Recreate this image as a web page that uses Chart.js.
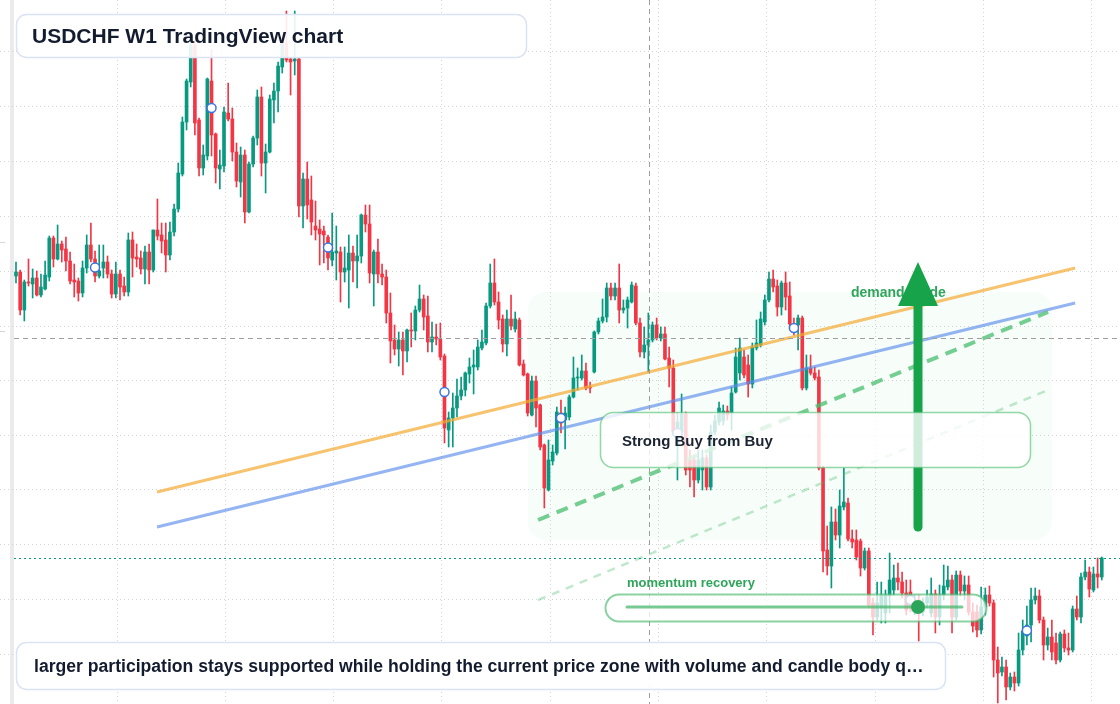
<!DOCTYPE html>
<html>
<head>
<meta charset="utf-8">
<title>USDCHF W1 TradingView chart</title>
<script src="https://cdn.jsdelivr.net/npm/chart.js@4.4.1/dist/chart.umd.min.js"></script>
<style>
  html, body { margin: 0; padding: 0; background: #ffffff; }
  #wrap { position: relative; width: 1120px; height: 704px; overflow: hidden; }
</style>
</head>
<body>
<div id="wrap"><canvas id="chart"></canvas></div>
<script>
// USDCHF weekly candles, oldest first
const open = [
  0.9448,0.9456,0.9380,0.9436,0.9432,0.9444,0.9410,0.9422,0.9446,0.9524,
  0.9482,0.9512,0.9502,0.9478,0.9440,0.9438,0.9414,0.9464,0.9510,0.9482,
  0.9448,0.9464,0.9476,0.9452,0.9412,0.9452,0.9428,0.9416,0.9520,0.9486,
  0.9484,0.9462,0.9496,0.9460,0.9540,0.9530,0.9520,0.9490,0.9536,0.9582,
  0.9652,0.9756,0.9836,0.9910,0.9760,0.9664,0.9688,0.9838,0.9732,0.9662,
  0.9668,0.9774,0.9762,0.9696,0.9636,0.9690,0.9576,0.9672,0.9724,0.9806,
  0.9674,0.9696,0.9800,0.9818,0.9866,0.9914,0.9882,0.9878,0.9882,0.9588,
  0.9642,0.9600,0.9548,0.9542,0.9538,0.9526,0.9480,0.9494,0.9496,0.9456,
  0.9460,0.9494,0.9478,0.9488,0.9570,0.9552,0.9452,0.9496,0.9452,0.9446,
  0.9374,0.9320,0.9302,0.9320,0.9298,0.9340,0.9338,0.9380,0.9402,0.9368,
  0.9316,0.9326,0.9322,0.9288,0.9140,0.9164,0.9184,0.9208,0.9220,0.9252,
  0.9266,0.9266,0.9304,0.9314,0.9388,0.9434,0.9396,0.9362,0.9312,0.9362,
  0.9342,0.9360,0.9272,0.9252,0.9170,0.9238,0.9190,0.9110,0.9020,0.9078,
  0.9094,0.9174,0.9160,0.9166,0.9206,0.9244,0.9244,0.9258,0.9226,0.9256,
  0.9336,0.9358,0.9366,0.9424,0.9408,0.9424,0.9380,0.9384,0.9396,0.9428,
  0.9354,0.9296,0.9310,0.9320,0.9350,0.9324,0.9332,0.9284,0.9264,0.9112,
  0.9136,0.9172,0.9080,0.9080,0.9040,0.9060,0.9084,0.9026,0.9136,0.9156,
  0.9158,0.9178,0.9174,0.9216,0.9254,0.9286,0.9270,0.9232,0.9304,0.9310,
  0.9356,0.9400,0.9442,0.9428,0.9386,0.9434,0.9408,0.9352,0.9350,0.9364,
  0.9224,0.9264,0.9254,0.9246,0.9064,0.8900,0.8868,0.8956,0.8930,0.8986,
  0.8994,0.8922,0.8920,0.8918,0.8864,0.8898,0.8794,0.8766,0.8784,0.8774,
  0.8808,0.8820,0.8844,0.8836,0.8814,0.8816,0.8784,0.8800,0.8776,0.8794,
  0.8774,0.8812,0.8766,0.8810,0.8826,0.8840,0.8766,0.8850,0.8818,0.8830,
  0.8776,0.8776,0.8740,0.8786,0.8810,0.8794,0.8680,0.8656,0.8666,0.8626,
  0.8646,0.8634,0.8700,0.8728,0.8750,0.8800,0.8808,0.8760,0.8710,0.8726,
  0.8714,0.8680,0.8732,0.8704,0.8700,0.8782,0.8766,0.8846,0.8856,0.8820,
  0.8852,0.8846
];
const high = [
  0.9476,0.9460,0.9440,0.9482,0.9462,0.9458,0.9452,0.9478,0.9528,0.9528,
  0.9550,0.9518,0.9526,0.9496,0.9472,0.9444,0.9478,0.9530,0.9554,0.9498,
  0.9510,0.9510,0.9488,0.9460,0.9476,0.9460,0.9446,0.9534,0.9536,0.9512,
  0.9498,0.9508,0.9512,0.9540,0.9602,0.9554,0.9554,0.9556,0.9592,0.9674,
  0.9766,0.9842,0.9920,0.9920,0.9764,0.9710,0.9844,0.9900,0.9734,0.9700,
  0.9786,0.9834,0.9784,0.9714,0.9706,0.9700,0.9676,0.9728,0.9820,0.9826,
  0.9712,0.9810,0.9834,0.9876,0.9916,0.9978,0.9884,0.9978,0.9884,0.9654,
  0.9676,0.9648,0.9598,0.9560,0.9548,0.9530,0.9574,0.9548,0.9506,0.9506,
  0.9530,0.9508,0.9530,0.9572,0.9590,0.9590,0.9500,0.9522,0.9472,0.9460,
  0.9414,0.9350,0.9336,0.9336,0.9342,0.9374,0.9388,0.9430,0.9410,0.9408,
  0.9356,0.9352,0.9354,0.9292,0.9176,0.9214,0.9242,0.9246,0.9256,0.9284,
  0.9300,0.9320,0.9340,0.9394,0.9472,0.9482,0.9416,0.9370,0.9380,0.9410,
  0.9376,0.9364,0.9280,0.9254,0.9248,0.9248,0.9192,0.9112,0.9120,0.9110,
  0.9186,0.9200,0.9186,0.9210,0.9286,0.9264,0.9290,0.9274,0.9236,0.9338,
  0.9364,0.9402,0.9434,0.9434,0.9434,0.9472,0.9400,0.9406,0.9436,0.9434,
  0.9364,0.9346,0.9374,0.9356,0.9364,0.9346,0.9346,0.9306,0.9280,0.9174,
  0.9212,0.9176,0.9100,0.9086,0.9100,0.9100,0.9090,0.9150,0.9170,0.9196,
  0.9190,0.9188,0.9226,0.9304,0.9324,0.9300,0.9290,0.9314,0.9360,0.9376,
  0.9410,0.9456,0.9460,0.9440,0.9438,0.9456,0.9436,0.9364,0.9370,0.9368,
  0.9290,0.9290,0.9266,0.9260,0.9068,0.8948,0.8986,0.8982,0.9020,0.9064,
  0.9004,0.8940,0.8940,0.8922,0.8904,0.8904,0.8804,0.8836,0.8836,0.8820,
  0.8894,0.8870,0.8874,0.8856,0.8840,0.8840,0.8810,0.8810,0.8804,0.8820,
  0.8844,0.8820,0.8830,0.8870,0.8868,0.8850,0.8858,0.8858,0.8848,0.8848,
  0.8794,0.8790,0.8826,0.8824,0.8828,0.8800,0.8706,0.8686,0.8680,0.8654,
  0.8656,0.8734,0.8760,0.8788,0.8824,0.8824,0.8820,0.8766,0.8744,0.8760,
  0.8734,0.8736,0.8740,0.8734,0.8788,0.8808,0.8854,0.8880,0.8866,0.8866,
  0.8884,0.8886
];
const low = [
  0.9434,0.9370,0.9358,0.9428,0.9404,0.9408,0.9406,0.9420,0.9438,0.9466,
  0.9480,0.9476,0.9458,0.9432,0.9406,0.9398,0.9406,0.9454,0.9476,0.9436,
  0.9444,0.9444,0.9444,0.9404,0.9404,0.9400,0.9408,0.9408,0.9446,0.9466,
  0.9452,0.9432,0.9432,0.9456,0.9520,0.9494,0.9456,0.9480,0.9528,0.9576,
  0.9648,0.9740,0.9826,0.9730,0.9648,0.9650,0.9680,0.9688,0.9634,0.9622,
  0.9656,0.9758,0.9678,0.9626,0.9606,0.9554,0.9574,0.9666,0.9710,0.9648,
  0.9614,0.9694,0.9754,0.9776,0.9854,0.9876,0.9810,0.9850,0.9566,0.9544,
  0.9562,0.9530,0.9520,0.9470,0.9474,0.9460,0.9468,0.9440,0.9396,0.9436,
  0.9384,0.9436,0.9424,0.9474,0.9536,0.9434,0.9388,0.9434,0.9430,0.9354,
  0.9274,0.9290,0.9268,0.9250,0.9276,0.9306,0.9320,0.9376,0.9340,0.9296,
  0.9296,0.9310,0.9280,0.9114,0.9106,0.9106,0.9166,0.9200,0.9208,0.9234,
  0.9212,0.9260,0.9300,0.9310,0.9384,0.9390,0.9342,0.9296,0.9288,0.9340,
  0.9336,0.9268,0.9248,0.9168,0.9168,0.9146,0.9100,0.8984,0.9018,0.9070,
  0.9090,0.9134,0.9102,0.9160,0.9204,0.9220,0.9240,0.9220,0.9214,0.9254,
  0.9332,0.9354,0.9356,0.9400,0.9400,0.9354,0.9374,0.9344,0.9394,0.9350,
  0.9286,0.9284,0.9256,0.9316,0.9320,0.9318,0.9280,0.9226,0.9130,0.9040,
  0.9120,0.9050,0.9026,0.9006,0.9034,0.9020,0.9020,0.9020,0.9130,0.9150,
  0.9150,0.9160,0.9140,0.9214,0.9240,0.9244,0.9206,0.9224,0.9300,0.9306,
  0.9350,0.9396,0.9416,0.9368,0.9370,0.9380,0.9340,0.9330,0.9300,0.9220,
  0.9220,0.9250,0.9240,0.9060,0.8856,0.8850,0.8824,0.8920,0.8904,0.8980,
  0.8918,0.8904,0.8880,0.8848,0.8860,0.8784,0.8730,0.8760,0.8754,0.8754,
  0.8774,0.8810,0.8820,0.8804,0.8770,0.8776,0.8770,0.8718,0.8768,0.8784,
  0.8766,0.8734,0.8750,0.8800,0.8820,0.8734,0.8760,0.8808,0.8800,0.8770,
  0.8736,0.8726,0.8732,0.8770,0.8788,0.8646,0.8594,0.8648,0.8600,0.8620,
  0.8618,0.8628,0.8690,0.8710,0.8716,0.8792,0.8754,0.8680,0.8700,0.8680,
  0.8672,0.8676,0.8696,0.8690,0.8696,0.8760,0.8754,0.8840,0.8806,0.8816,
  0.8824,0.8840
];
const close = [
  0.9456,0.9380,0.9436,0.9434,0.9444,0.9410,0.9426,0.9450,0.9524,0.9482,
  0.9512,0.9500,0.9478,0.9438,0.9436,0.9414,0.9464,0.9510,0.9482,0.9448,
  0.9458,0.9476,0.9452,0.9412,0.9452,0.9426,0.9416,0.9520,0.9484,0.9482,
  0.9462,0.9496,0.9460,0.9540,0.9528,0.9518,0.9490,0.9536,0.9582,0.9654,
  0.9756,0.9838,0.9910,0.9754,0.9664,0.9690,0.9842,0.9730,0.9664,0.9670,
  0.9776,0.9762,0.9696,0.9638,0.9690,0.9576,0.9672,0.9724,0.9806,0.9674,
  0.9696,0.9802,0.9818,0.9868,0.9914,0.9880,0.9876,0.9882,0.9588,0.9642,
  0.9590,0.9556,0.9540,0.9532,0.9530,0.9484,0.9496,0.9498,0.9456,0.9464,
  0.9494,0.9478,0.9488,0.9570,0.9552,0.9454,0.9496,0.9452,0.9446,0.9374,
  0.9318,0.9302,0.9320,0.9298,0.9340,0.9338,0.9380,0.9402,0.9366,0.9316,
  0.9326,0.9322,0.9286,0.9144,0.9164,0.9184,0.9208,0.9220,0.9254,0.9266,
  0.9270,0.9306,0.9316,0.9388,0.9434,0.9396,0.9360,0.9312,0.9362,0.9348,
  0.9362,0.9270,0.9250,0.9174,0.9238,0.9184,0.9106,0.9024,0.9080,0.9096,
  0.9176,0.9154,0.9174,0.9206,0.9244,0.9246,0.9258,0.9224,0.9224,0.9336,
  0.9358,0.9366,0.9424,0.9408,0.9424,0.9380,0.9384,0.9400,0.9430,0.9354,
  0.9296,0.9310,0.9320,0.9350,0.9324,0.9332,0.9282,0.9264,0.9136,0.9156,
  0.9172,0.9060,0.9060,0.9040,0.9080,0.9084,0.9026,0.9136,0.9158,0.9184,
  0.9178,0.9170,0.9214,0.9286,0.9304,0.9250,0.9232,0.9306,0.9314,0.9362,
  0.9400,0.9442,0.9426,0.9386,0.9434,0.9406,0.9352,0.9336,0.9364,0.9224,
  0.9264,0.9254,0.9244,0.9064,0.8898,0.8868,0.8956,0.8930,0.8988,0.8996,
  0.8922,0.8916,0.8886,0.8864,0.8898,0.8790,0.8766,0.8794,0.8810,0.8810,
  0.8840,0.8844,0.8836,0.8814,0.8780,0.8784,0.8800,0.8780,0.8794,0.8806,
  0.8812,0.8766,0.8810,0.8828,0.8840,0.8766,0.8850,0.8818,0.8830,0.8776,
  0.8748,0.8740,0.8786,0.8810,0.8794,0.8680,0.8654,0.8666,0.8626,0.8646,
  0.8634,0.8700,0.8738,0.8750,0.8800,0.8808,0.8760,0.8710,0.8726,0.8696,
  0.8680,0.8732,0.8704,0.8700,0.8782,0.8766,0.8846,0.8856,0.8822,0.8852,
  0.8846,0.8884
];

// weeks carrying the blue pivot circle
const markerWeeks = [19, 47, 75, 103, 131, 159, 187, 215, 243];

// drawn trend lines, [week, price] end points
const orangeTrend = [[33.9, 0.9016], [254.6, 0.9464]];
const blueTrend = [[33.9, 0.8946], [254.6, 0.9394]];
const greenTrend = [[125.5, 0.8960], [248.1, 0.9376]];
const paleTrend = [[125.5, 0.8800], [248.1, 0.9220]];

// crosshair position
const crossWeek = 152.2;
const crossPrice = 0.9324;

// grid: half-year separators (weeks) and price levels
const gridWeeks = [24.3, 50.3, 76.4, 102.4, 128.4, 154.5, 180.5, 206.5, 232.5, 258.6];
const gridPrices = [0.9896, 0.9786, 0.9677, 0.9567, 0.9458, 0.9348, 0.9239, 0.9129, 0.9020, 0.8910, 0.8801, 0.8691];

const UP = '#089981';
const DOWN = '#f23645';
const FONT = '"Liberation Sans", Arial, sans-serif';

const candleColors = close.map((c, i) => c >= open[i] ? UP : DOWN);
const wickData = close.map((c, i) => ({ x: i, y: [low[i], high[i]] }));
const bodyData = close.map((c, i) => ({ x: i, y: [open[i], c] }));
const markerData = markerWeeks.map(w => ({ x: w, y: (open[w] + close[w]) / 2 }));
const toPoints = seg => seg.map(p => ({ x: p[0], y: p[1] }));

function trendLine(seg, color, width, dash) {
    return {
        type: 'line',
        data: toPoints(seg),
        borderColor: color,
        borderWidth: width,
        borderDash: dash || [],
        pointRadius: 0,
        fill: false,
        tension: 0,
        order: 2
    };
}

function box(ctx, x, y, w, h, r, fill, stroke, lw) {
    ctx.beginPath();
    ctx.roundRect(x, y, w, h, r);
    if (fill) { ctx.fillStyle = fill; ctx.fill(); }
    if (stroke) { ctx.lineWidth = lw || 1; ctx.strokeStyle = stroke; ctx.stroke(); }
}

// white page and the thin grey pane edge on the left
const backdrop = {
    id: 'backdrop',
    beforeDraw(chart) {
        const ctx = chart.ctx;
        ctx.save();
        ctx.fillStyle = '#ffffff';
        ctx.fillRect(0, 0, chart.width, chart.height);
        ctx.fillStyle = '#ebebeb';
        ctx.fillRect(10, 0, 4, chart.height);
        ctx.fillStyle = '#d6d6d6';
        ctx.fillRect(0, 242, 5, 1);
        ctx.fillRect(0, 331, 5, 1);
        ctx.restore();
    },
    beforeDatasetsDraw(chart) {
        // faint demand zone behind the candles
        const ctx = chart.ctx;
        ctx.save();
        box(ctx, 528, 292, 524, 248, 18, 'rgba(34,197,94,0.035)');
        ctx.restore();
    }
};

const overlay = {
    id: 'overlay',
    afterDatasetsDraw(chart) {
        const ctx = chart.ctx;
        const xs = chart.scales.x;
        const ys = chart.scales.y;
        ctx.save();

        // crosshair
        ctx.lineWidth = 1;
        ctx.strokeStyle = '#9e9e9e';
        ctx.setLineDash([5, 4]);
        const cy = Math.round(ys.getPixelForValue(crossPrice)) + 0.5;
        ctx.beginPath(); ctx.moveTo(14, cy); ctx.lineTo(chart.width, cy); ctx.stroke();
        const cx = Math.round(xs.getPixelForValue(crossWeek)) + 0.5;
        ctx.beginPath(); ctx.moveTo(cx, 0); ctx.lineTo(cx, chart.height); ctx.stroke();

        // last price line
        ctx.strokeStyle = UP;
        ctx.setLineDash([2, 3]);
        const ly = Math.round(ys.getPixelForValue(close[close.length - 1])) + 0.5;
        ctx.beginPath(); ctx.moveTo(14, ly); ctx.lineTo(chart.width, ly); ctx.stroke();
        ctx.setLineDash([]);

        // demand guide label + arrow
        ctx.font = 'bold 14px ' + FONT;
        ctx.textBaseline = 'middle';
        ctx.fillStyle = '#2ea55a';
        ctx.fillText('demand guide', 851, 293);

        ctx.strokeStyle = '#16a34a';
        ctx.lineWidth = 9;
        ctx.lineCap = 'round';
        ctx.beginPath(); ctx.moveTo(918, 527); ctx.lineTo(918, 300); ctx.stroke();
        ctx.fillStyle = '#16a34a';
        ctx.beginPath();
        ctx.moveTo(918, 262); ctx.lineTo(938, 306); ctx.lineTo(898, 306);
        ctx.closePath(); ctx.fill();
        ctx.lineCap = 'butt';

        // signal box
        box(ctx, 600.5, 412.5, 430, 55, 13, 'rgba(255,255,255,0.8)', 'rgba(74,190,110,0.6)', 1.5);
        ctx.font = 'bold 15px ' + FONT;
        ctx.fillStyle = '#1b2333';
        ctx.fillText('Strong Buy from Buy', 622, 442);

        // momentum pill
        ctx.font = 'bold 13px ' + FONT;
        ctx.fillStyle = '#2ea55a';
        ctx.fillText('momentum recovery', 627, 583);
        box(ctx, 605.5, 594.5, 381, 27, 13.5, 'rgba(255,255,255,0.75)', 'rgba(60,180,100,0.6)', 2);
        ctx.strokeStyle = 'rgba(60,180,100,0.7)';
        ctx.lineWidth = 3;
        ctx.lineCap = 'round';
        ctx.beginPath(); ctx.moveTo(627, 607); ctx.lineTo(962, 607); ctx.stroke();
        ctx.fillStyle = '#2aa55a';
        ctx.beginPath(); ctx.arc(918, 607, 7, 0, Math.PI * 2); ctx.fill();

        // title and note panels
        box(ctx, 16.5, 14.5, 510, 43, 10, 'rgba(255,255,255,0.9)', '#d9e4f5', 1.5);
        ctx.font = 'bold 21px ' + FONT;
        ctx.fillStyle = '#131c2e';
        ctx.fillText('USDCHF W1 TradingView chart', 32, 37);

        box(ctx, 16.5, 642.5, 929, 47, 10, 'rgba(255,255,255,0.95)', '#d9e4f5', 1.5);
        ctx.font = 'bold 17.6px ' + FONT;
        ctx.fillStyle = '#131c2e';
        ctx.fillText('larger participation stays supported while holding the current price zone with volume and candle body q\u2026', 34, 667);

        ctx.restore();
    }
};

new Chart(document.getElementById('chart'), {
    type: 'bar',
    data: {
        datasets: [
            {
                label: 'wick',
                data: wickData,
                backgroundColor: candleColors,
                borderWidth: 0,
                grouped: false,
                barThickness: 1,
                maxBarThickness: 1,
                order: 5
            },
            {
                label: 'body',
                data: bodyData,
                backgroundColor: candleColors,
                borderWidth: 0,
                grouped: false,
                barThickness: 3,
                maxBarThickness: 3,
                minBarLength: 1,
                order: 4
            },
            trendLine(paleTrend, 'rgba(74,190,110,0.35)', 2.5, [8, 7]),
            trendLine(greenTrend, 'rgba(74,190,110,0.75)', 4, [12, 8]),
            trendLine(orangeTrend, 'rgba(243,170,50,0.7)', 3),
            trendLine(blueTrend, 'rgba(90,140,235,0.65)', 3),
            {
                type: 'line',
                label: 'pivots',
                data: markerData,
                showLine: false,
                pointRadius: 4.5,
                pointBackgroundColor: '#ffffff',
                pointBorderColor: '#3f73e0',
                pointBorderWidth: 1.5,
                order: 1
            }
        ]
    },
    options: {
        responsive: true,
        maintainAspectRatio: false,
        animation: false,
        events: [],
        layout: { padding: 0, autoPadding: false },
        plugins: {
            legend: { display: false },
            tooltip: { enabled: false }
        },
        scales: {
            x: {
                type: 'linear',
                min: -3.846,
                max: 265.38,
                offset: false,
                afterBuildTicks: s => { s.ticks = gridWeeks.map(v => ({ value: v })); },
                ticks: { display: false },
                grid: { color: '#d4d4d4', drawTicks: false, offset: false },
                border: { display: false, dash: [1, 3] }
            },
            y: {
                type: 'linear',
                min: 0.8592,
                max: 1.0,
                afterBuildTicks: s => { s.ticks = gridPrices.map(v => ({ value: v })); },
                ticks: { display: false },
                grid: { color: '#d4d4d4', drawTicks: false, offset: false },
                border: { display: false, dash: [1, 3] }
            }
        }
    },
    plugins: [backdrop, overlay]
});
</script>
</body>
</html>
